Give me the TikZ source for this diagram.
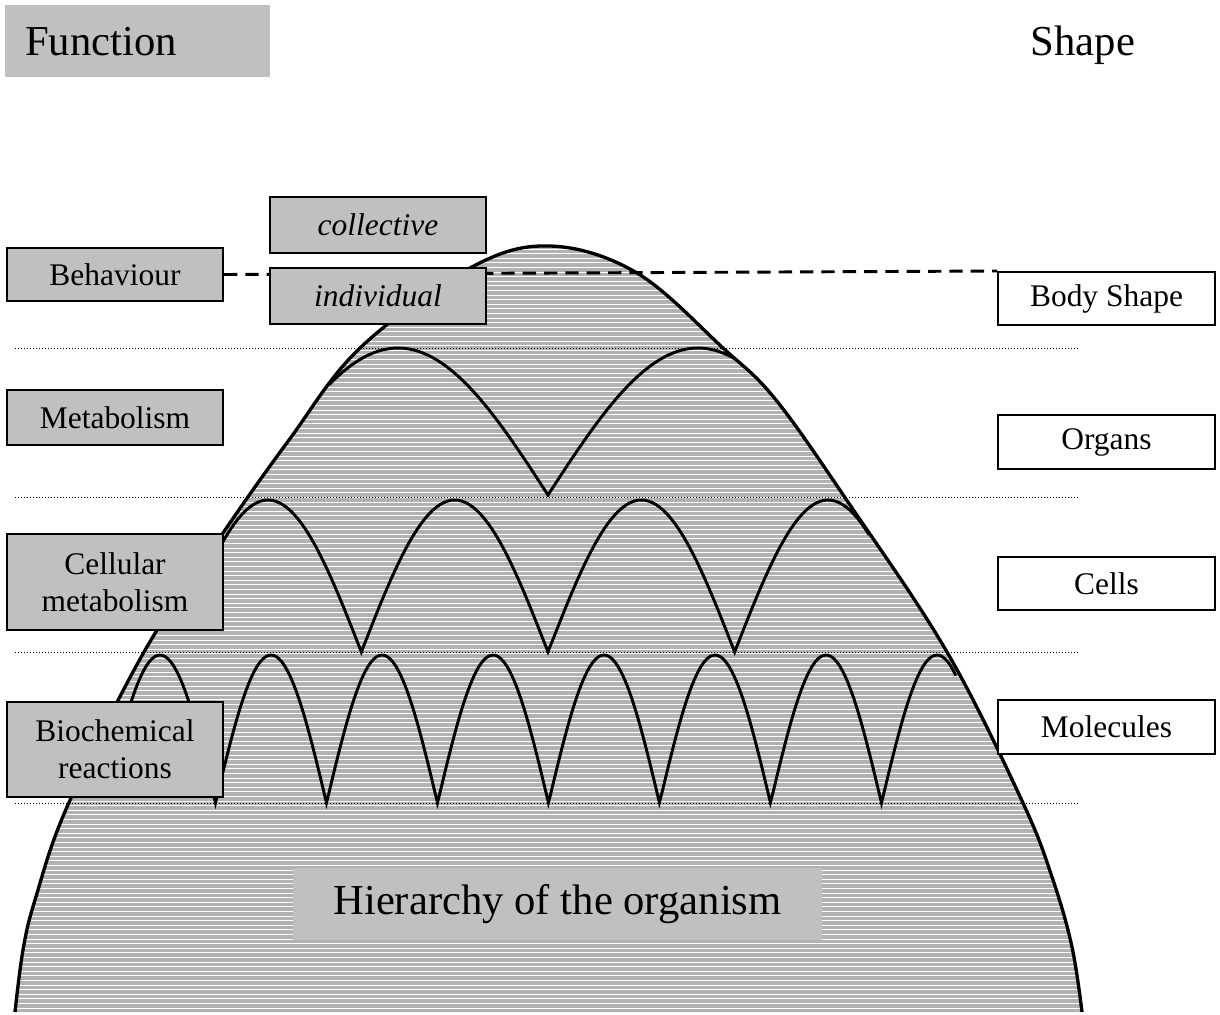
\documentclass[tikz,border=0pt]{standalone}
\usepackage{fontspec}
\setmainfont{Liberation Serif}
\definecolor{boxgray}{RGB}{192,192,192}
\definecolor{hatchgray}{RGB}{178,178,178}
\begin{document}
\begin{tikzpicture}[x=0.75pt,y=-0.75pt,
  lbl/.style={font=\fontsize{23.6}{27.8}\selectfont, align=center, inner sep=0pt, line width=1.5pt},
  funcbox/.style={lbl, draw=black, fill=boxgray},
  shapebox/.style={lbl, draw=black, fill=white},
  sz/.style 2 args={minimum width=#1*0.75pt, minimum height=#2*0.75pt},
  big/.style={font=\fontsize{32}{38}\selectfont, inner sep=0pt},
  outline/.style={line width=2.5pt, line join=round},
  arch/.style={line width=2.2pt, line join=miter},
  level/.style={line width=0.6pt, dash pattern=on 0.75pt off 1.5pt},
  link/.style={line width=2.2pt, dash pattern=on 10pt off 6pt}]

\useasboundingbox (0,0) rectangle (1220,1014);

\def\mtn{plot[smooth,tension=0.6] coordinates {(15,1012) (23,950) (35,900) (67,807) (144,652) (223,533) (289,440) (360,348) (470,268) (550,246) (637,273) (723,348) (776,400) (850,505) (947,652) (1023,803) (1053,880) (1072,947) (1082,1012)}}

% mountain with hatching and arches
\begin{scope}
  \clip \mtn -- cycle;
  \fill[hatchgray] (0,240) rectangle (1220,1014);
  \foreach \y in {249,253.6,...,1012} {\draw[white,line width=0.7pt] (0,\y) -- (1100,\y);}
  % molecules
  \draw[arch] plot[domain=-0.3:0.5, samples=33, variable=\t] ({160+111*\t},{803-148*abs(cos(180*\t))})
           -- plot[domain=0.5:6.5, samples=241, variable=\t] ({160+111*\t},{803-148*abs(cos(180*\t))})
           -- plot[domain=6.5:7.17, samples=28, variable=\t] ({160+111*\t},{803-148*abs(cos(180*\t))});
  % cells
  \draw[arch] plot[domain=-0.28:0.5, samples=40, variable=\t] ({268+186.67*\t},{652-152*abs(cos(180*\t))})
           -- plot[domain=0.5:2.5, samples=101, variable=\t] ({268+186.67*\t},{652-152*abs(cos(180*\t))})
           -- plot[domain=2.5:3.22, samples=37, variable=\t] ({268+186.67*\t},{652-152*abs(cos(180*\t))});
  % organs
  \draw[arch] plot[domain=-0.23:0.5, samples=50, variable=\t] ({398+300*\t},{495-147*abs(cos(180*\t))})
           -- plot[domain=0.5:1.2, samples=50, variable=\t] ({398+300*\t},{495-147*abs(cos(180*\t))});
\end{scope}
\draw[outline] \mtn;

% level separators
\foreach \y in {348,497,652,803} {\draw[level] (15,\y) -- (1080,\y);}

% boxes
\node[funcbox, sz={216}{53}] (beh) at (115,274.5) {Behaviour};
\node[shapebox, sz={217}{53}] (body) at (1106.5,298.5) {Body Shape};
\draw[link] (beh.east) -- (body.north west);

\node[funcbox, sz={216}{56}, font=\fontsize{23.6}{27.8}\selectfont\itshape] (coll) at (378,225) {collective};
\node[funcbox, sz={216}{56}, font=\fontsize{23.6}{27.8}\selectfont\itshape] (indiv) at (378,296) {individual};
\node[funcbox, sz={216}{55}] (meta) at (115,417.5) {Metabolism};
\node[funcbox, sz={216}{96}] (cellm) at (115,582) {Cellular\\metabolism};
\node[funcbox, sz={216}{95}] (bio) at (115,749.5) {Biochemical\\reactions};

\node[shapebox, sz={217}{54}] (organs) at (1106.5,442) {Organs};
\node[shapebox, sz={217}{53}] (cells) at (1106.5,583.5) {Cells};
\node[shapebox, sz={217}{54}] (mol) at (1106.5,727) {Molecules};

% headings
\node[big, fill=boxgray, anchor=north west, text width=225*0.75pt, inner xsep=20*0.75pt, minimum height=72*0.75pt, align=left] (func) at (5,5) {Function};
\node[big] (shape) at (1083,45) {Shape};
\node[big, fill=boxgray, sz={529}{72}] (hier) at (557.5,904) {Hierarchy of the organism};
\end{tikzpicture}
\end{document}
